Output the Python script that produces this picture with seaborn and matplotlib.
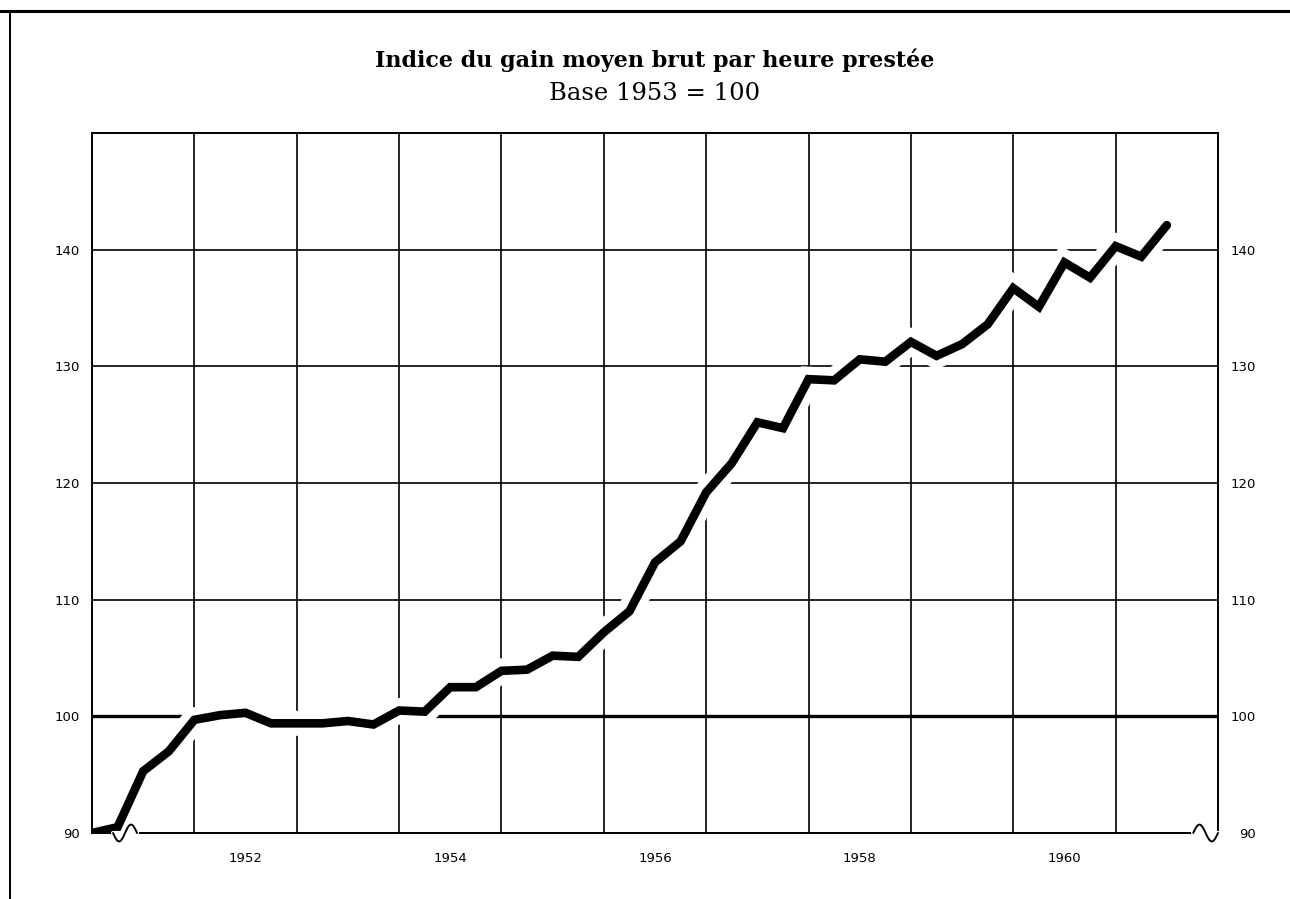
import numpy as np
import pandas as pd
import matplotlib
matplotlib.use("Agg")
import matplotlib.pyplot as plt
import matplotlib.patheffects as pe
from matplotlib.lines import Line2D
import matplotlib.transforms as mtransforms
import seaborn as sns

# Quarterly index values, Base 1953 = 100
quarters = [1951.0, 1951.25, 1951.5, 1951.75,
            1952.0, 1952.25, 1952.5, 1952.75,
            1953.0, 1953.25, 1953.5, 1953.75,
            1954.0, 1954.25, 1954.5, 1954.75,
            1955.0, 1955.25, 1955.5, 1955.75,
            1956.0, 1956.25, 1956.5, 1956.75,
            1957.0, 1957.25, 1957.5, 1957.75,
            1958.0, 1958.25, 1958.5, 1958.75,
            1959.0, 1959.25, 1959.5, 1959.75,
            1960.0, 1960.25, 1960.5, 1960.75,
            1961.0, 1961.25, 1961.5]
index_values = [90.0, 90.5, 95.3, 97.0,
                99.7, 100.1, 100.3, 99.4,
                99.4, 99.4, 99.6, 99.3,
                100.5, 100.4, 102.5, 102.5,
                103.9, 104.0, 105.2, 105.1,
                107.2, 109.0, 113.2, 115.0,
                119.2, 121.7, 125.2, 124.7,
                128.9, 128.8, 130.6, 130.4,
                132.1, 130.9, 131.9, 133.6,
                136.7, 135.1, 138.9, 137.6,
                140.3, 139.4, 142.1]

year_labels = ["1952", "1954", "1956", "1958", "1960"]
year_label_pos = [1952.5, 1954.5, 1956.5, 1958.5, 1960.5]
year_grid = [1952, 1953, 1954, 1955, 1956, 1957, 1958, 1959, 1960, 1961]
y_ticks = [90, 100, 110, 120, 130, 140, 150]
y_labels = ["90", "100", "110", "120", "130", "140", ""]

df = pd.DataFrame({"trimestre": quarters, "indice": index_values})

sns.set_theme(style="white")
plt.rcParams["font.family"] = ["DejaVu Sans"]
plt.rcParams["text.color"] = "black"
plt.rcParams["xtick.color"] = "black"
plt.rcParams["ytick.color"] = "black"

fig = plt.figure(figsize=(12.9, 8.99), dpi=100)
ax = fig.add_axes([92 / 1290, 66 / 899, 1126 / 1290, 700 / 899])

sns.lineplot(data=df, x="trimestre", y="indice", ax=ax, color="black",
             linewidth=6.2, solid_joinstyle="miter",
             path_effects=[pe.Stroke(linewidth=18, foreground="white"), pe.Normal()])

ax.set_xlim(1951, 1962)
ax.set_ylim(90, 150)
ax.set_xlabel("")
ax.set_ylabel("")

ax.set_xticks(year_label_pos)
ax.set_xticklabels(year_labels)
ax.set_xticks(year_grid, minor=True)
ax.set_yticks(y_ticks)
ax.set_yticklabels(y_labels)

ax.set_axisbelow(True)
ax.grid(False)
ax.xaxis.grid(True, which="minor", color="black", linewidth=1.2)
ax.yaxis.grid(True, which="major", color="black", linewidth=1.2)
for val, gl in zip(y_ticks, ax.get_ygridlines()):
    if val == 100:
        gl.set_linewidth(2.4)

ax.tick_params(axis="x", which="both", length=0, pad=13.5, labelsize=9.5,
               labelcolor="black")
ax.tick_params(axis="y", which="both", length=0, pad=8.5, labelsize=9.5,
               labelcolor="black")

for s in ax.spines.values():
    s.set_visible(True)
    s.set_color("black")
    s.set_linewidth(1.4)
    s.set_zorder(2.5)

# right-hand scale
ax2 = ax.twinx()
ax2.set_ylim(90, 150)
ax2.set_yticks(y_ticks)
ax2.set_yticklabels(y_labels)
ax2.tick_params(axis="y", length=0, pad=27, labelsize=9.5, labelcolor="black")
for lbl in ax2.get_yticklabels():
    lbl.set_horizontalalignment("right")
for s in ax2.spines.values():
    s.set_visible(False)
ax2.grid(False)


def axis_break(a, x0, x1, sign):
    # little wave replacing a piece of the bottom axis
    trans = mtransforms.blended_transform_factory(a.transAxes, a.transAxes)
    a.plot([x0, x1], [0, 0], color="white", linewidth=3, transform=trans,
           clip_on=False, zorder=3)
    t = np.linspace(0, 1, 60)
    a.plot(x0 + (x1 - x0) * t, sign * 0.012 * np.sin(2 * np.pi * t),
           color="black", linewidth=1.4, transform=trans, clip_on=False,
           zorder=3.5)


axis_break(ax2, 0.0187, 0.040, -1)
axis_break(ax2, 0.978, 1.0, 1)

fig.text(655 / 1290, 1 - 67 / 899, "Indice du gain moyen brut par heure prestée",
         ha="center", va="baseline", fontsize=16, fontweight="bold",
         color="black", family=["DejaVu Serif"])
fig.text(655 / 1290, 1 - 100 / 899, "Base 1953 = 100",
         ha="center", va="baseline", fontsize=17.5, color="black",
         family=["DejaVu Serif"])

# page frame (top and left edges)
fig.add_artist(Line2D([0, 1], [1 - 11 / 899, 1 - 11 / 899], transform=fig.transFigure,
                      color="black", linewidth=2.2))
fig.add_artist(Line2D([10 / 1290, 10 / 1290], [0, 1 - 11 / 899], transform=fig.transFigure,
                      color="black", linewidth=1.4))

fig.savefig("out.png", dpi=100)
